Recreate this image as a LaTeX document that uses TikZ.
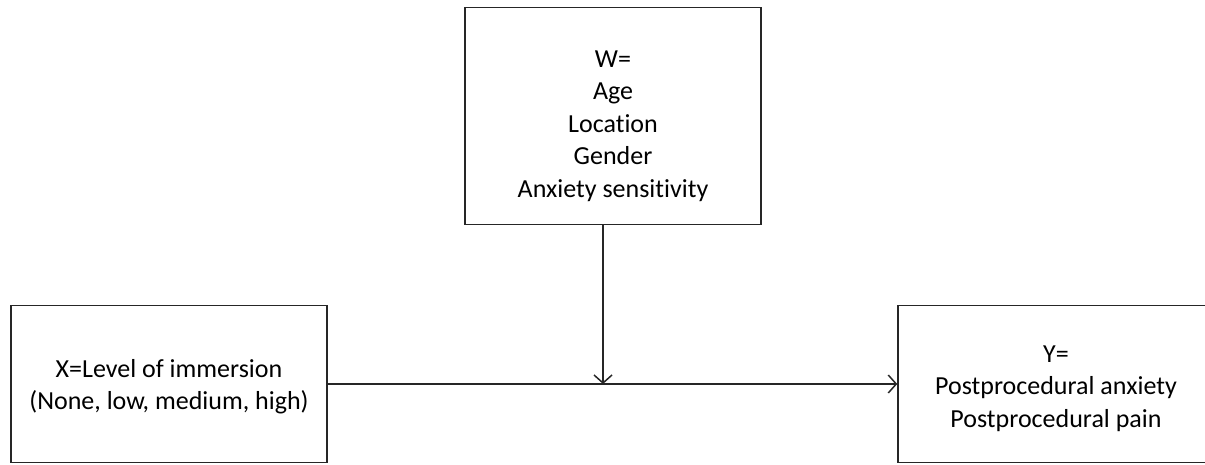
\documentclass[tikz,border=0pt]{standalone}
\usepackage{fontspec}
\setmainfont[Ligatures=NoCommon]{Carlito}
\usetikzlibrary{arrows.meta}
% Text im Kasten etwas tiefer setzen, ohne die Kastengroesse zu aendern
\newcommand{\tiefer}[2]{\raisebox{-#1}[\height][\depth]{\begin{tabular}{@{}c@{}}#2\end{tabular}}}
\tikzset{
	kasten/.style={draw=black!85, line width=1.5pt, inner sep=0pt,
		font=\fontsize{26}{32.5}\selectfont},
	pfeil/.style={draw=black!85, line width=1.5pt, -{Straight Barb[length=8pt, width=18pt, line width=1.5pt]}}
}
\begin{document}
\begin{tikzpicture}[x=1pt, y=1pt]
			%\draw [lightgray](0,0) grid (1205,464);
			\useasboundingbox (0,0) rectangle (1205,464);
			
			% Zeichnet den Kasten der Moderatoren oben
			\node[kasten, minimum width=296pt, minimum height=217pt] (w) at (613,348) {\tiefer{10pt}{W=\\Age\\Location\\Gender\\Anxiety sensitivity}};
			
			% Zeichnet den Kasten links (unabhaengige Variable)
			\node[kasten, minimum width=316pt, minimum height=157pt] (x) at (169,80) {\tiefer{3pt}{X=Level of immersion\\(None, low, medium, high)}};
			
			% Zeichnet den Kasten rechts (abhaengige Variable)
			\node[kasten, minimum width=316pt, minimum height=157pt] (y) at (1056,80) {\tiefer{4pt}{Y=\\Postprocedural anxiety\\Postprocedural pain}};
			
			% Punkt, an dem der Moderator auf den Pfad trifft
			\coordinate (treffpunkt) at (603,80);
			
			% Zeichnet Pfeil von X nach Y
			\draw[pfeil] (x.east) -- (y.west);
			
			% Zeichnet Pfeil von W auf den Pfad
			\draw[pfeil] (w.south -| treffpunkt) -- (treffpunkt);
		\end{tikzpicture}
\end{document}
